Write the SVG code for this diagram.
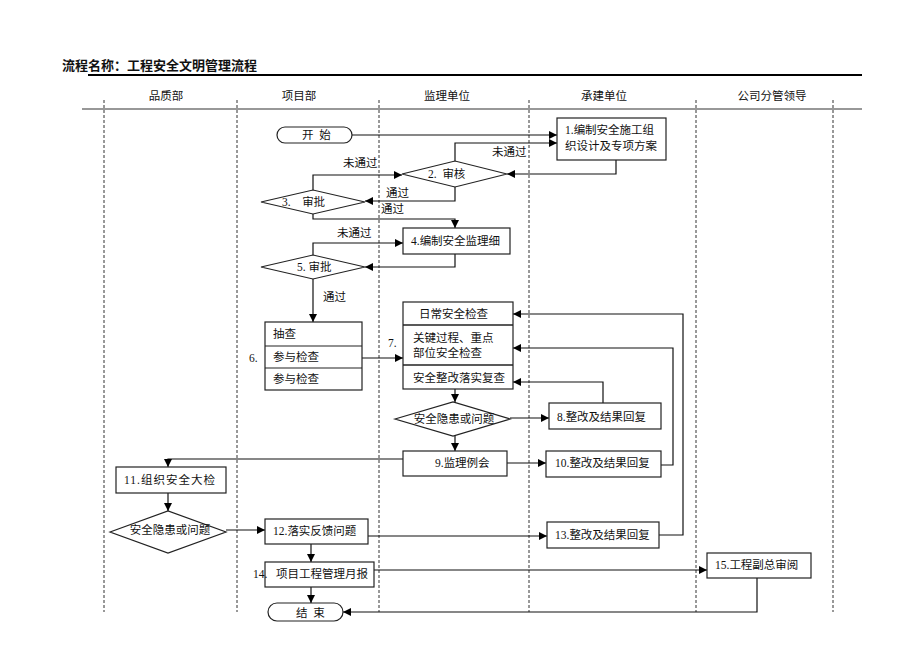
<svg xmlns="http://www.w3.org/2000/svg" width="920" height="651" viewBox="0 0 920 651" xml:space="preserve">
<style>
text{font-family:"Liberation Serif","Noto Sans CJK SC",serif;font-size:11.5px;fill:#111;white-space:pre}
.t{font-size:13px;font-weight:bold;font-family:"Liberation Sans","Noto Sans CJK SC",sans-serif}
.h{font-size:11.5px;text-anchor:middle}
.m{text-anchor:middle}
.box{fill:#fff;stroke:#222;stroke-width:1.2}
.lane{stroke:#333;stroke-width:1;stroke-dasharray:3,2}
.c path{fill:none;stroke:#111;stroke-width:1.2}
</style>
<defs>
<marker id="a" markerUnits="userSpaceOnUse" markerWidth="9" markerHeight="8" refX="8" refY="4" orient="auto">
<path d="M0,0 L8,4 L0,8 z" fill="#000"/>
</marker>
</defs>
<rect width="920" height="651" fill="#fff"/>
<text class="t" x="62" y="70">流程名称：工程安全文明管理流程</text>
<line x1="88" y1="75" x2="862" y2="75" stroke="#000" stroke-width="2"/>
<line x1="82" y1="109" x2="862" y2="109" stroke="#333" stroke-width="1.2"/>
<g id="headers">
<text class="h" x="166" y="100">品质部</text>
<text class="h" x="299" y="100">项目部</text>
<text class="h" x="447" y="100">监理单位</text>
<text class="h" x="604" y="100">承建单位</text>
<text class="h" x="772" y="100">公司分管领导</text>
</g>
<g id="lanes">
<line class="lane" x1="104" y1="100" x2="104" y2="612"/>
<line class="lane" x1="237" y1="100" x2="237" y2="612"/>
<line class="lane" x1="379" y1="100" x2="379" y2="612"/>
<line class="lane" x1="529" y1="100" x2="529" y2="612"/>
<line class="lane" x1="696" y1="100" x2="696" y2="612"/>
<line class="lane" x1="833" y1="100" x2="833" y2="612"/>
</g>
<g class="c" id="connectors">
<path d="M352,135 H557" marker-end="url(#a)"/>
<path d="M616,160 V174 H507" marker-end="url(#a)"/>
<path d="M455,162 V143 H557" marker-end="url(#a)"/>
<path d="M455,186 V201 H365" marker-end="url(#a)"/>
<path d="M313,190 V175 H402" marker-end="url(#a)"/>
<path d="M313,214 V219 H455 V228" marker-end="url(#a)"/>
<path d="M455,254 V267 H365" marker-end="url(#a)"/>
<path d="M313,255 V243 H403" marker-end="url(#a)"/>
<path d="M313,279 V322" marker-end="url(#a)"/>
<path d="M362,358 H403" marker-end="url(#a)"/>
<path d="M455,389 V402" marker-end="url(#a)"/>
<path d="M510,418 H549" marker-end="url(#a)"/>
<path d="M603,403 V382 H513" marker-end="url(#a)"/>
<path d="M455,436 V451" marker-end="url(#a)"/>
<path d="M507,463 H546" marker-end="url(#a)"/>
<path d="M661,465 H673 V348 H513" marker-end="url(#a)"/>
<path d="M403,459 H168 V467" marker-end="url(#a)"/>
<path d="M168,493 V511" marker-end="url(#a)"/>
<path d="M226,530 H265" marker-end="url(#a)"/>
<path d="M368,536 H547" marker-end="url(#a)"/>
<path d="M659,535 H683 V314 H513" marker-end="url(#a)"/>
<path d="M311,544 V562" marker-end="url(#a)"/>
<path d="M374,570 H707" marker-end="url(#a)"/>
<path d="M757,578 V612 H343" marker-end="url(#a)"/>
<path d="M311,587 V603" marker-end="url(#a)"/>
</g>
<g id="labels">
<text x="492" y="156">未通过</text>
<text x="343" y="167">未通过</text>
<text x="386" y="197">通过</text>
<text x="381" y="213">通过</text>
<text x="337" y="237">未通过</text>
<text x="323" y="301">通过</text>
</g>
<g id="start">
<rect class="box" x="277" y="127" width="75" height="16" rx="8"/>
<text x="302" y="139">开  始</text>
</g>
<g id="n1">
<rect class="box" x="557" y="118" width="109" height="42"/>
<text x="565" y="134">1.编制安全施工组</text>
<text x="565" y="150">织设计及专项方案</text>
</g>
<g id="n2">
<polygon class="box" points="402,174 455,161 507,174 455,187"/>
<text x="428" y="178">2.  审核</text>
</g>
<g id="n3">
<polygon class="box" points="261,202 313,190 365,202 313,214"/>
<text x="282" y="206">3.    审批</text>
</g>
<g id="n4">
<rect class="box" x="403" y="228" width="107" height="26"/>
<text x="411" y="245">4.编制安全监理细</text>
</g>
<g id="n5">
<polygon class="box" points="261,267 313,255 365,267 313,279"/>
<text x="297" y="271">5. 审批</text>
</g>
<g id="n6">
<rect class="box" x="265" y="322" width="97" height="68"/>
<line x1="265" y1="346" x2="362" y2="346" stroke="#222" stroke-width="1.2"/>
<line x1="265" y1="368" x2="362" y2="368" stroke="#222" stroke-width="1.2"/>
<text x="273" y="338">抽查</text>
<text x="273" y="361">参与检查</text>
<text x="273" y="383">参与检查</text>
<text x="249" y="362">6.</text>
</g>
<g id="n7">
<rect class="box" x="403" y="302" width="110" height="87"/>
<line x1="403" y1="325" x2="513" y2="325" stroke="#222" stroke-width="1.5"/>
<line x1="403" y1="365" x2="513" y2="365" stroke="#222" stroke-width="1.5"/>
<text x="419" y="318">日常安全检查</text>
<text x="413" y="342">关键过程、重点</text>
<text x="413" y="357">部位安全检查</text>
<text x="413" y="382">安全整改落实复查</text>
<text x="388" y="347">7.</text>
</g>
<g id="d1">
<polygon class="box" points="395,419 453,402 510,419 453,436"/>
<text class="m" x="454" y="423">安全隐患或问题</text>
</g>
<g id="n8">
<rect class="box" x="549" y="403" width="112" height="26"/>
<text x="557" y="421">8.整改及结果回复</text>
</g>
<g id="n9">
<rect class="box" x="403" y="451" width="104" height="25"/>
<text x="435" y="467">9.监理例会</text>
</g>
<g id="n10">
<rect class="box" x="546" y="451" width="115" height="26"/>
<text x="555" y="467">10.整改及结果回复</text>
</g>
<g id="n11">
<rect class="box" x="116" y="467" width="110" height="26"/>
<text x="124" y="484" letter-spacing="1">11.组织安全大检</text>
</g>
<g id="d2">
<polygon class="box" points="110,532 168,511 226,532 168,553"/>
<text class="m" x="170" y="534">安全隐患或问题</text>
</g>
<g id="n12">
<rect class="box" x="265" y="519" width="103" height="25"/>
<text x="273" y="535">12.落实反馈问题</text>
</g>
<g id="n13">
<rect class="box" x="547" y="522" width="112" height="26"/>
<text x="555" y="539">13.整改及结果回复</text>
</g>
<g id="n14">
<rect class="box" x="265" y="562" width="109" height="25"/>
<text x="253" y="578">14.</text>
<text x="276" y="578">项目工程管理月报</text>
</g>
<g id="n15">
<rect class="box" x="707" y="553" width="104" height="25"/>
<text x="715" y="569">15.工程副总审阅</text>
</g>
<g id="end">
<rect class="box" x="268" y="603" width="75" height="18" rx="9"/>
<text x="296" y="617">结  束</text>
</g>
</svg>
